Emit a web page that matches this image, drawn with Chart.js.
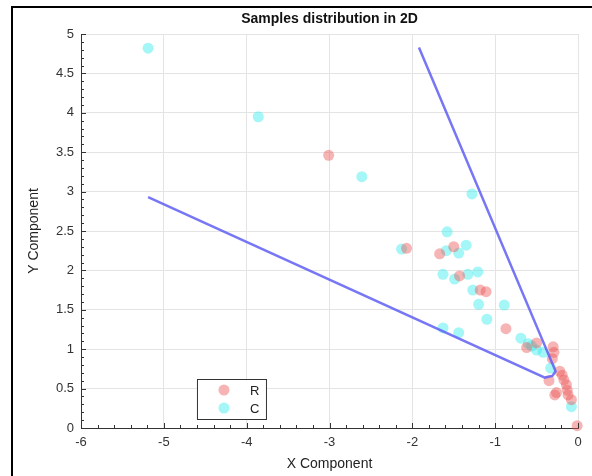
<!DOCTYPE html>
<html>
<head>
<meta charset="utf-8">
<title>Samples distribution in 2D</title>
<script src="https://cdn.jsdelivr.net/npm/chart.js@4"></script>
<style>
  html, body { margin: 0; padding: 0; background: #fff; }
  #chart-box { width: 592px; height: 476px; position: relative; }
</style>
</head>
<body>
<div id="chart-box"><canvas id="my-chart"></canvas></div>
<script>
'use strict';

//***********Data***********
let rX = [-3.01, -2.07, -1.50, -1.67, -1.43, -1.18, -1.11, -0.87, -0.62, -0.50, -0.30, -0.29, -0.31, -0.22, -0.19, -0.35, -0.17, -0.14, -0.13, -0.28, -0.26, -0.12, -0.08, -0.01];
let rY = [3.46, 2.28, 2.30, 2.21, 1.93, 1.75, 1.73, 1.26, 1.02, 1.08, 1.03, 0.96, 0.88, 0.72, 0.67, 0.60, 0.61, 0.55, 0.48, 0.42, 0.45, 0.42, 0.36, 0.03];

let cX = [-5.19, -3.86, -2.61, -1.28, -1.58, -2.13, -1.59, -1.35, -1.44, -1.63, -1.49, -1.33, -1.21, -1.27, -1.20, -0.89, -1.10, -1.63, -1.44, -0.69, -0.60, -0.56, -0.50, -0.42, -0.33, -0.08];
let cY = [4.82, 3.95, 3.19, 2.97, 2.49, 2.27, 2.25, 2.32, 2.22, 1.95, 1.89, 1.95, 1.98, 1.75, 1.57, 1.56, 1.38, 1.27, 1.21, 1.14, 1.07, 1.04, 0.99, 0.96, 0.76, 0.27];

// boundary drawn in blue
let lineX = [-5.19, -0.40, -0.31, -0.27, -1.92];
let lineY = [2.93, 0.64, 0.66, 0.72, 4.83];

let xTicks = [-6, -5, -4, -3, -2, -1, 0];
let yTicks = [0, 0.5, 1, 1.5, 2, 2.5, 3, 3.5, 4, 4.5, 5];

let seriesNames = ['R', 'C'];
let redFill = 'rgba(236,88,88,0.45)';
let cyanFill = 'rgba(63,235,235,0.47)';

//***********Helpers***********
function toPoints(xs, ys) {
  let pts = [];
  for (let i = 0; i < xs.length; i++) {
    pts.push({ x: xs[i], y: ys[i] });
  }
  return pts;
}

let fontFam = '"Liberation Sans", Arial, Helvetica, sans-serif';

// frame, title, minor ticks and legend box
let extrasPlugin = {
  id: 'extras',
  beforeDraw(chart) {
    let c = chart.ctx;
    c.save();
    c.fillStyle = '#fff';
    c.fillRect(0, 0, chart.width, chart.height);
    c.restore();
  },
  afterDraw(chart) {
    let c = chart.ctx;
    let xs = chart.scales.x;
    let ys = chart.scales.y;
    let area = chart.chartArea;
    c.save();

    // figure frame
    c.strokeStyle = '#000';
    c.lineWidth = 2;
    c.strokeRect(12, 7, 620, 520);

    // title
    c.fillStyle = '#111';
    c.font = 'bold 14px ' + fontFam;
    c.textAlign = 'center';
    c.textBaseline = 'middle';
    c.fillText('Samples distribution in 2D', (area.left + area.right) / 2, 19);

    // inward ticks on x axis
    c.strokeStyle = '#333';
    c.lineWidth = 1;
    for (let k = 0; k <= 30; k++) {
      let v = -6 + k * 0.2;
      let px = Math.round(xs.getPixelForValue(v)) + 0.5;
      let len = (k % 5 === 0) ? 5 : 3;
      c.beginPath();
      c.moveTo(px, area.bottom);
      c.lineTo(px, area.bottom - len);
      c.stroke();
    }
    // inward ticks on y axis
    for (let k = 0; k <= 50; k++) {
      let v = k * 0.1;
      let py = Math.round(ys.getPixelForValue(v)) + 0.5;
      let len = (k % 5 === 0) ? 5 : 3;
      c.beginPath();
      c.moveTo(area.left, py);
      c.lineTo(area.left + len, py);
      c.stroke();
    }

    // legend
    let lx = xs.getPixelForValue(-4.6);
    let ly = 379;
    c.fillStyle = '#fff';
    c.fillRect(lx, ly, 69, 40);
    c.strokeStyle = '#333';
    c.lineWidth = 1;
    c.strokeRect(lx + 0.5, ly + 0.5, 69, 40);
    let fills = [redFill, cyanFill];
    c.font = '13px ' + fontFam;
    c.textAlign = 'left';
    for (let i = 0; i < seriesNames.length; i++) {
      let cy = ly + 11 + i * 18;
      c.fillStyle = fills[i];
      c.beginPath();
      c.arc(lx + 27, cy, 5.5, 0, Math.PI * 2);
      c.fill();
      c.fillStyle = '#222';
      c.fillText(seriesNames[i], lx + 53, cy + 1);
    }
    c.restore();
  }
};

//***********Chart***********
let ctx = document.getElementById('my-chart').getContext('2d');

let myChartObj = {
  type: 'scatter',
  data: {
    datasets: [
      {
        label: 'boundary',
        type: 'line',
        data: toPoints(lineX, lineY),
        borderColor: 'rgba(95,95,245,0.85)',
        borderWidth: 2.5,
        pointRadius: 0,
        fill: false,
        tension: 0,
        order: 0
      },
      {
        label: seriesNames[0],
        data: toPoints(rX, rY),
        backgroundColor: redFill,
        borderWidth: 0,
        pointRadius: 5.5,
        clip: false,
        order: 1
      },
      {
        label: seriesNames[1],
        data: toPoints(cX, cY),
        backgroundColor: cyanFill,
        borderWidth: 0,
        pointRadius: 5.5,
        clip: false,
        order: 2
      }
    ]
  },
  options: {
    responsive: true,
    maintainAspectRatio: false,
    animation: false,
    layout: { padding: { left: 0, right: 14, top: 34, bottom: 0 } },
    plugins: {
      legend: { display: false },
      tooltip: { enabled: false },
      title: { display: false }
    },
    scales: {
      x: {
        type: 'linear',
        min: -6,
        max: 0,
        afterBuildTicks(scale) {
          scale.ticks = xTicks.map(v => ({ value: v }));
        },
        afterFit(scale) {
          scale.height = 48;
        },
        grid: { color: '#e4e4e4', drawTicks: false },
        border: { display: true, color: '#333', width: 1 },
        ticks: {
          color: '#333',
          padding: 7,
          font: { size: 13, family: fontFam },
          callback: (v) => String(v)
        },
        title: {
          display: true,
          text: 'X Component',
          color: '#222',
          padding: { top: 0, bottom: 3 },
          font: { size: 14, family: fontFam }
        }
      },
      y: {
        type: 'linear',
        min: 0,
        max: 5,
        afterBuildTicks(scale) {
          scale.ticks = yTicks.map(v => ({ value: v }));
        },
        afterFit(scale) {
          scale.width = 81;
        },
        grid: { color: '#e4e4e4', drawTicks: false },
        border: { display: true, color: '#333', width: 1 },
        ticks: {
          color: '#333',
          padding: 7,
          font: { size: 13, family: fontFam },
          callback: (v) => String(v)
        },
        title: {
          display: true,
          text: 'Y Component',
          color: '#222',
          padding: { top: 26, bottom: 0 },
          font: { size: 14, family: fontFam }
        }
      }
    }
  },
  plugins: [extrasPlugin]
};

new Chart(ctx, myChartObj);
</script>
</body>
</html>
